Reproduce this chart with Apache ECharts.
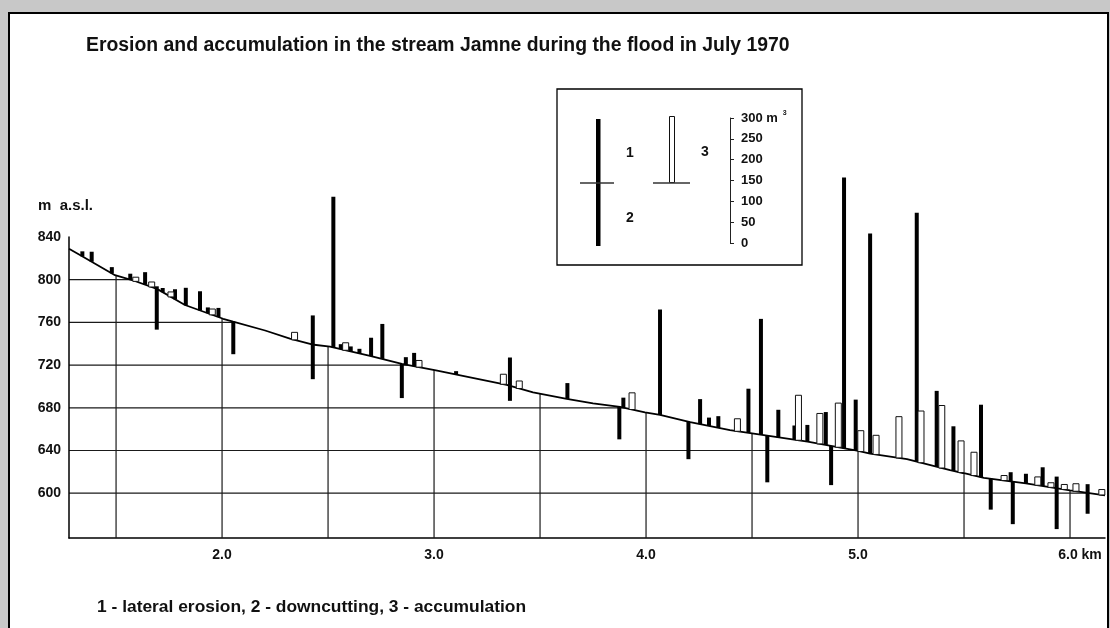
<!DOCTYPE html>
<html>
<head>
<meta charset="utf-8">
<style>
  html, body { margin: 0; padding: 0; background: #c8c8c8; }
  #chart { width: 1110px; height: 628px; }
</style>
<script src="https://cdn.jsdelivr.net/npm/echarts@6/dist/echarts.min.js"></script>
</head>
<body>
<div id="chart"></div>
<script>
// ---------------- data ----------------
const titleText = 'Erosion and accumulation in the stream Jamne during the flood in July 1970';
const footText = '1 - lateral erosion, 2 - downcutting, 3 - accumulation';

// stream long profile [km, m a.s.l.]
const profile = [
  [1.278, 829.0], [1.34, 822.0], [1.495, 804.2], [1.575, 799.7], [1.693, 791.4],
  [1.825, 776.3], [2.005, 763.4], [2.052, 760.7], [2.203, 752.4], [2.32, 744.8],
  [2.424, 739.3], [2.509, 737.2], [2.698, 728.7], [2.848, 721.1], [3.009, 715.1],
  [3.343, 701.4], [3.467, 694.4], [3.626, 688.4], [3.75, 684.2], [3.877, 680.8],
  [3.995, 675.8], [4.066, 673.3], [4.208, 666.6], [4.396, 659.0], [4.5, 656.0],
  [4.762, 648.3], [4.995, 639.8], [5.057, 637.1], [5.231, 631.9], [5.434, 621.6],
  [5.495, 618.9], [5.594, 614.3], [5.792, 609.2], [6.0, 602.6], [6.165, 597.9]
];

// 1 - lateral erosion [km, m3]
const lateral = [
  [1.341, 12], [1.385, 24], [1.48, 15], [1.567, 14], [1.637, 30], [1.692, 6],
  [1.72, 10], [1.778, 24], [1.829, 42], [1.896, 46], [1.933, 14], [1.983, 22],
  [2.428, 70], [2.525, 362], [2.56, 12], [2.607, 12], [2.648, 11], [2.703, 44],
  [2.756, 84], [2.867, 18], [2.906, 32], [3.104, 8], [3.358, 68], [3.629, 38],
  [3.893, 24], [4.066, 253], [4.255, 60], [4.297, 20], [4.341, 28], [4.483, 106],
  [4.542, 278], [4.624, 66], [4.70, 34], [4.761, 40], [4.848, 79], [4.934, 650],
  [4.989, 122], [5.057, 528], [5.277, 597], [5.371, 182], [5.45, 107], [5.58, 174],
  [5.72, 22], [5.792, 23], [5.871, 45], [5.937, 28], [6.083, 21]
];

// 2 - downcutting [km, m3]
const downcut = [
  [1.692, 98], [2.053, 78], [2.428, 83], [2.848, 82], [3.358, 36], [3.874, 78],
  [4.20, 90], [4.572, 112], [4.873, 94], [5.626, 74], [5.73, 102], [5.937, 98],
  [6.083, 50]
];

// 3 - accumulation [km, m3]
const accum = [
  [1.593, 10], [1.668, 12], [1.759, 12], [1.954, 14], [2.342, 18], [2.583, 18],
  [2.929, 16], [3.327, 24], [3.402, 18], [3.934, 40], [4.431, 30], [4.719, 108],
  [4.82, 73], [4.907, 106], [5.013, 50], [5.085, 46], [5.193, 99], [5.297, 124],
  [5.395, 150], [5.486, 76], [5.547, 56], [5.689, 12], [5.848, 20], [5.91, 11],
  [5.973, 12], [6.028, 18], [6.15, 13]
];

const xTicks = [2, 3, 4, 5, 6];
const yTicks = [600, 640, 680, 720, 760, 800, 840];
const xGrid = [1.5, 2.0, 2.5, 3.0, 3.5, 4.0, 4.5, 5.0, 5.5, 6.0];
const yGrid = [600, 640, 680, 720, 760, 800];
const scaleTicks = [0, 50, 100, 150, 200, 250, 300];

// ---------------- layout / style ----------------
const X_MIN = 1.278, X_MAX = 6.165, Y_MIN = 558, Y_MAX = 840;
const SCALE_PX = 125;                  // legend scale height in px (0..300 m3)
const M3_PX = SCALE_PX / 300;          // px per m3
const FONT = '"Liberation Sans", Arial, sans-serif';

function profileAt(km) {
  for (let i = 0; i < profile.length - 1; i++) {
    const a = profile[i], b = profile[i + 1];
    if (km >= a[0] && km <= b[0]) {
      return a[1] + (b[1] - a[1]) * (km - a[0]) / (b[0] - a[0]);
    }
  }
  return km < profile[0][0] ? profile[0][1] : profile[profile.length - 1][1];
}

function barRenderer(kind) {
  return function (params, api) {
    const km = api.value(0), vol = api.value(1);
    const base = api.coord([km, profileAt(km)]);
    const len = vol * M3_PX;
    const w = kind === 'acc' ? 6 : 4;
    const y0 = kind === 'down' ? base[1] : base[1] - len;
    return {
      type: 'rect',
      shape: { x: base[0] - w / 2, y: y0, width: w, height: len },
      style: kind === 'acc'
        ? { fill: '#fff', stroke: '#111', lineWidth: 1 }
        : { fill: '#000' }
    };
  };
}

const chart = echarts.init(document.getElementById('chart'), null, { renderer: 'canvas' });

const option = {
  animation: false,
  backgroundColor: '#c8c8c8',
  title: {
    text: titleText, left: 86, top: 36, padding: 0,
    textStyle: { fontFamily: FONT, fontSize: 19.4, fontWeight: 'bold', color: '#111' }
  },
  grid: [
    { left: 69, right: 5, top: 237, bottom: 90 },
    { left: 730, top: 118, height: SCALE_PX, width: 1 }
  ],
  xAxis: [
    {
      type: 'value', min: X_MIN, max: X_MAX, gridIndex: 0,
      axisLine: { show: true, lineStyle: { color: '#000', width: 1.5 } },
      axisTick: { show: false },
      splitLine: { show: false },
      axisLabel: {
        customValues: xTicks, margin: 10,
        fontFamily: FONT, fontSize: 14, fontWeight: 'bold', color: '#111',
        formatter: v => v === 6 ? '{s|}6.0 km' : v.toFixed(1),
        rich: { s: { width: 20 } }
      }
    },
    { type: 'value', gridIndex: 1, show: false, min: 0, max: 1 }
  ],
  yAxis: [
    {
      type: 'value', min: Y_MIN, max: Y_MAX, gridIndex: 0, z: 5,
      name: 'm  a.s.l.', nameLocation: 'end', nameGap: 24,
      nameTextStyle: { fontFamily: FONT, fontSize: 15, fontWeight: 'bold', color: '#111', align: 'right', padding: [0, -24, 0, 0] },
      axisLine: { show: true, lineStyle: { color: '#000', width: 1.5 } },
      axisTick: { show: false },
      splitLine: { show: false },
      axisLabel: {
        customValues: yTicks, margin: 8,
        fontFamily: FONT, fontSize: 14, fontWeight: 'bold', color: '#111'
      }
    },
    {
      type: 'value', gridIndex: 1, min: 0, max: 300, interval: 50, z: 10,
      axisLine: { show: true, lineStyle: { color: '#222', width: 1 } },
      axisTick: { show: true, inside: true, length: 4, lineStyle: { color: '#222' } },
      splitLine: { show: false },
      axisLabel: {
        inside: true, margin: 11,
        fontFamily: FONT, fontSize: 13, fontWeight: 'bold', color: '#111',
        formatter: v => v === 300 ? '300 m{sup|3}' : String(v),
        rich: { sup: { fontFamily: FONT, fontSize: 7, padding: [0, 0, 10, 5], color: '#111' } }
      }
    }
  ],
  graphic: [
    { type: 'rect', z: 0, shape: { x: 9, y: 13, width: 1099, height: 640 },
      style: { fill: '#fff', stroke: '#000', lineWidth: 2 } },
    // legend box
    { type: 'rect', z: 10, shape: { x: 557, y: 89, width: 245, height: 176 },
      style: { fill: 'none', stroke: '#000', lineWidth: 1.3 } },
    { type: 'rect', z: 10, shape: { x: 596, y: 119, width: 4.5, height: 127 }, style: { fill: '#000' } },
    { type: 'line', z: 10, shape: { x1: 580, y1: 183, x2: 614, y2: 183 }, style: { stroke: '#333', lineWidth: 1.5 } },
    { type: 'rect', z: 10, shape: { x: 669.5, y: 116.5, width: 5, height: 66 }, style: { fill: '#fff', stroke: '#111', lineWidth: 1 } },
    { type: 'line', z: 10, shape: { x1: 653, y1: 183, x2: 690, y2: 183 }, style: { stroke: '#333', lineWidth: 1.5 } },
    { type: 'text', z: 10, x: 630, y: 153, style: { text: '1', fontFamily: FONT, fontSize: 14, fontWeight: 'bold', fill: '#111', align: 'center', verticalAlign: 'middle' } },
    { type: 'text', z: 10, x: 630, y: 218, style: { text: '2', fontFamily: FONT, fontSize: 14, fontWeight: 'bold', fill: '#111', align: 'center', verticalAlign: 'middle' } },
    { type: 'text', z: 10, x: 705, y: 152, style: { text: '3', fontFamily: FONT, fontSize: 14, fontWeight: 'bold', fill: '#111', align: 'center', verticalAlign: 'middle' } },
    // footnote
    { type: 'text', z: 10, x: 97, y: 607, style: { text: footText, fontFamily: FONT, fontSize: 17.4, fontWeight: 'bold', fill: '#111', align: 'left', verticalAlign: 'middle' } }
  ],
  series: [
    {
      type: 'custom', name: 'vgrid', z: 1, xAxisIndex: 0, yAxisIndex: 0,
      data: xGrid.map(v => [v]),
      renderItem: (params, api) => {
        const v = api.value(0);
        const a = api.coord([v, Y_MIN]), b = api.coord([v, Y_MAX]);
        return { type: 'line', shape: { x1: a[0], y1: a[1], x2: b[0], y2: b[1] }, style: { stroke: '#1a1a1a', lineWidth: 1.2 } };
      }
    },
    {
      type: 'custom', name: 'hgrid', z: 1, xAxisIndex: 0, yAxisIndex: 0,
      data: yGrid.map(v => [X_MIN, v]),
      renderItem: (params, api) => {
        const v = api.value(1);
        const a = api.coord([X_MIN, v]), b = api.coord([X_MAX, v]);
        return { type: 'line', shape: { x1: a[0], y1: a[1], x2: b[0], y2: b[1] }, style: { stroke: '#1a1a1a', lineWidth: 1.2 } };
      }
    },
    {
      type: 'line', name: 'profile', z: 2, xAxisIndex: 0, yAxisIndex: 0,
      data: profile, symbol: 'none', smooth: false,
      lineStyle: { color: '#000', width: 1.8 },
      areaStyle: { color: '#fff', opacity: 1, origin: 'end' }
    },
    { type: 'custom', name: 'lateral', z: 3, data: lateral, renderItem: barRenderer('up') },
    { type: 'custom', name: 'downcut', z: 3, data: downcut, renderItem: barRenderer('down') },
    { type: 'custom', name: 'accum', z: 3, data: accum, renderItem: barRenderer('acc') }
  ]
};

chart.setOption(option);
</script>
</body>
</html>
